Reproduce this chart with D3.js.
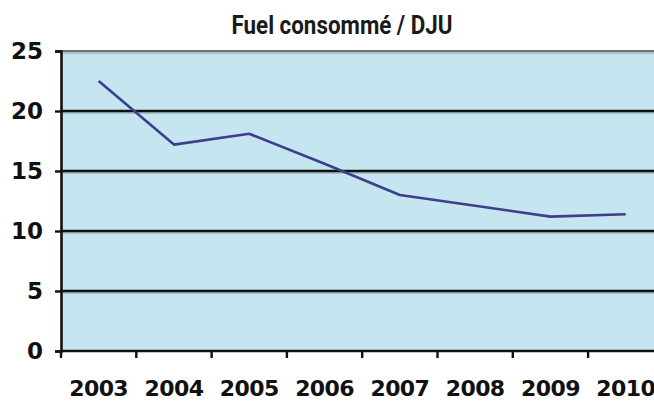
<!DOCTYPE html>
<html>
<head>
<meta charset="utf-8">
<script src="https://cdn.jsdelivr.net/npm/d3@7"></script>
<style>
  body { margin: 0; background: #fff; }
  svg { display: block; }
</style>
</head>
<body>
<script>
var width = 654;
var height = 403;

// values
var years = ["2003", "2004", "2005", "2006", "2007", "2008", "2009", "2010"];
var fuelPerDju = [22.5, 17.2, 18.1, 15.6, 13.0, 12.1, 11.2, 11.4];
var yTicks = [0, 5, 10, 15, 20, 25];
var title = "Fuel consommé / DJU";

var plotLeft = 61, plotTop = 51, plotBottom = 351;
var bandW = 75.3;

var svg = d3.select("body").append("svg")
  .attr("width", width)
  .attr("height", height);

var x = d3.scaleBand()
  .domain(years)
  .range([plotLeft, plotLeft + bandW * years.length]);

var y = d3.scaleLinear()
  .domain([0, 25])
  .range([plotBottom, plotTop]);

// plot background
svg.append("rect")
  .attr("x", plotLeft)
  .attr("y", plotTop)
  .attr("width", width - plotLeft)
  .attr("height", plotBottom - plotTop)
  .attr("fill", "#c5e6f0");

// grid lines with a soft shadow
var grid = svg.append("g");
yTicks.filter(function(d) { return d > 0; }).forEach(function(d) {
  grid.append("line")
    .attr("x1", plotLeft).attr("x2", width)
    .attr("y1", y(d) + 2).attr("y2", y(d) + 2)
    .attr("stroke", "#9fb3ba").attr("stroke-width", 1.5);
  grid.append("line")
    .attr("x1", plotLeft).attr("x2", width)
    .attr("y1", y(d)).attr("y2", y(d))
    .attr("stroke", d === 25 ? "#6c7376" : "#111")
    .attr("stroke-width", d === 25 ? 2 : 2.6);
});

// the data line
var line = d3.line()
  .x(function(d, i) { return x(years[i]) + x.bandwidth() / 2; })
  .y(function(d) { return y(d); });

svg.append("path")
  .datum(fuelPerDju)
  .attr("d", line)
  .attr("fill", "none")
  .attr("stroke", "#3d3f8a")
  .attr("stroke-width", 2.6)
  .attr("stroke-linejoin", "round");

// y axis
var yAxis = d3.axisLeft(y)
  .tickValues(yTicks)
  .tickSize(6)
  .tickPadding(12);

svg.append("g")
  .attr("transform", "translate(" + plotLeft + ",0)")
  .call(yAxis)
  .call(function(g) {
    g.select(".domain").attr("stroke", "#111").attr("stroke-width", 2.6);
    g.selectAll(".tick line").attr("stroke", "#111").attr("stroke-width", 2.4);
    g.selectAll(".tick text")
      .attr("fill", "#111")
      .style("font-family", "DejaVu Sans")
      .style("font-weight", "bold")
      .style("font-size", "23px");
  });

// x axis: ticks on band boundaries, labels on band centres
svg.append("line")
  .attr("x1", plotLeft).attr("x2", width)
  .attr("y1", plotBottom).attr("y2", plotBottom)
  .attr("stroke", "#111").attr("stroke-width", 2.6);

svg.append("g").selectAll("line")
  .data(years)
  .enter()
  .append("line")
  .attr("x1", function(d) { return x(d); })
  .attr("x2", function(d) { return x(d); })
  .attr("y1", plotBottom)
  .attr("y2", plotBottom + 7)
  .attr("stroke", "#111")
  .attr("stroke-width", 2.4);

svg.append("g").selectAll("text")
  .data(years)
  .enter()
  .append("text")
  .attr("x", function(d) { return x(d) + x.bandwidth() / 2; })
  .attr("y", 396)
  .attr("text-anchor", "middle")
  .attr("fill", "#111")
  .style("font-family", "DejaVu Sans")
  .style("font-weight", "bold")
  .style("font-size", "22px")
  .style("letter-spacing", "-0.6px")
  .text(function(d) { return d; });

// title (condensed look via textLength)
svg.append("text")
  .attr("x", 342)
  .attr("y", 34)
  .attr("text-anchor", "middle")
  .attr("textLength", 221)
  .attr("lengthAdjust", "spacingAndGlyphs")
  .attr("fill", "#1a1a1a")
  .style("font-family", "Roboto, sans-serif")
  .style("font-weight", "bold")
  .style("font-size", "25px")
  .text(title);
</script>
</body>
</html>
